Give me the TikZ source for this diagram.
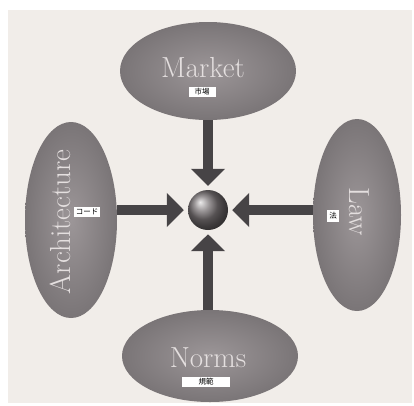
\documentclass[tikz,border=0pt]{standalone}
\usepackage{fontspec}
\newfontfamily\cjk{Noto Sans CJK JP}
\usetikzlibrary{arrows.meta,shapes.geometric}
\definecolor{paper}{HTML}{F1EDE9}
\definecolor{ellin}{HTML}{9C9698}
\definecolor{ellout}{HTML}{7A7577}
\definecolor{txt}{HTML}{E4DFDF}
\definecolor{arrcol}{HTML}{474446}
\definecolor{ballcol}{HTML}{7A7476}
\begin{document}
\begin{tikzpicture}[x=1pt,y=-1pt,
  force/.style={ellipse,inner sep=0pt,shade,inner color=ellin,outer color=ellout,draw=none},
  word/.style={text=txt,font=\fontsize{29}{30}\selectfont},
  tag/.style={fill=white,text=black,inner sep=1.5pt,font=\cjk\fontsize{7.5}{8}\selectfont},
  arr/.style={arrcol,line width=10pt,-{Triangle[width=33pt,length=17pt]},shorten >=4pt}]
\useasboundingbox (0,0) rectangle (414,405);
\fill[paper] (8,10) rectangle (412,403);
% nodes
\node[force,minimum width=176pt,minimum height=98pt] (market) at (208,71) {};
\node[force,minimum width=92pt,minimum height=196pt] (arch) at (71,220) {};
\node[force,minimum width=88pt,minimum height=192pt] (law) at (357,215) {};
\node[force,minimum width=176pt,minimum height=92pt] (norms) at (210,356) {};
\node[circle,minimum size=40pt,inner sep=0pt,ball color=ballcol,shading=ball] (ball) at (208,210) {};
% words
\node[word] (wmarket) at (203,68) {Market};
\node[word,rotate=90] (warch) at (60,222) {Architecture};
\node[word,rotate=-90] (wlaw) at (359,212) {Law};
\node[word] (wnorms) at (208,358) {Norms};
% tags
\node[tag,minimum width=27pt] (tmarket) at (202,92) {市場};
\node[tag,minimum width=18pt] (tarch) at (87,212) {コード};
\node[tag,minimum width=12pt,minimum height=12pt] (tlaw) at (333,216) {法};
\node[tag,minimum width=48pt] (tnorms) at (206,382) {規範};
% arrows
\draw[arr] (ball |- market.south) -- (ball);
\draw[arr] (ball -| arch.east) -- (ball);
\draw[arr] (ball -| law.west) -- (ball);
\draw[arr] (ball |- norms.north) -- (ball);
\end{tikzpicture}
\end{document}
